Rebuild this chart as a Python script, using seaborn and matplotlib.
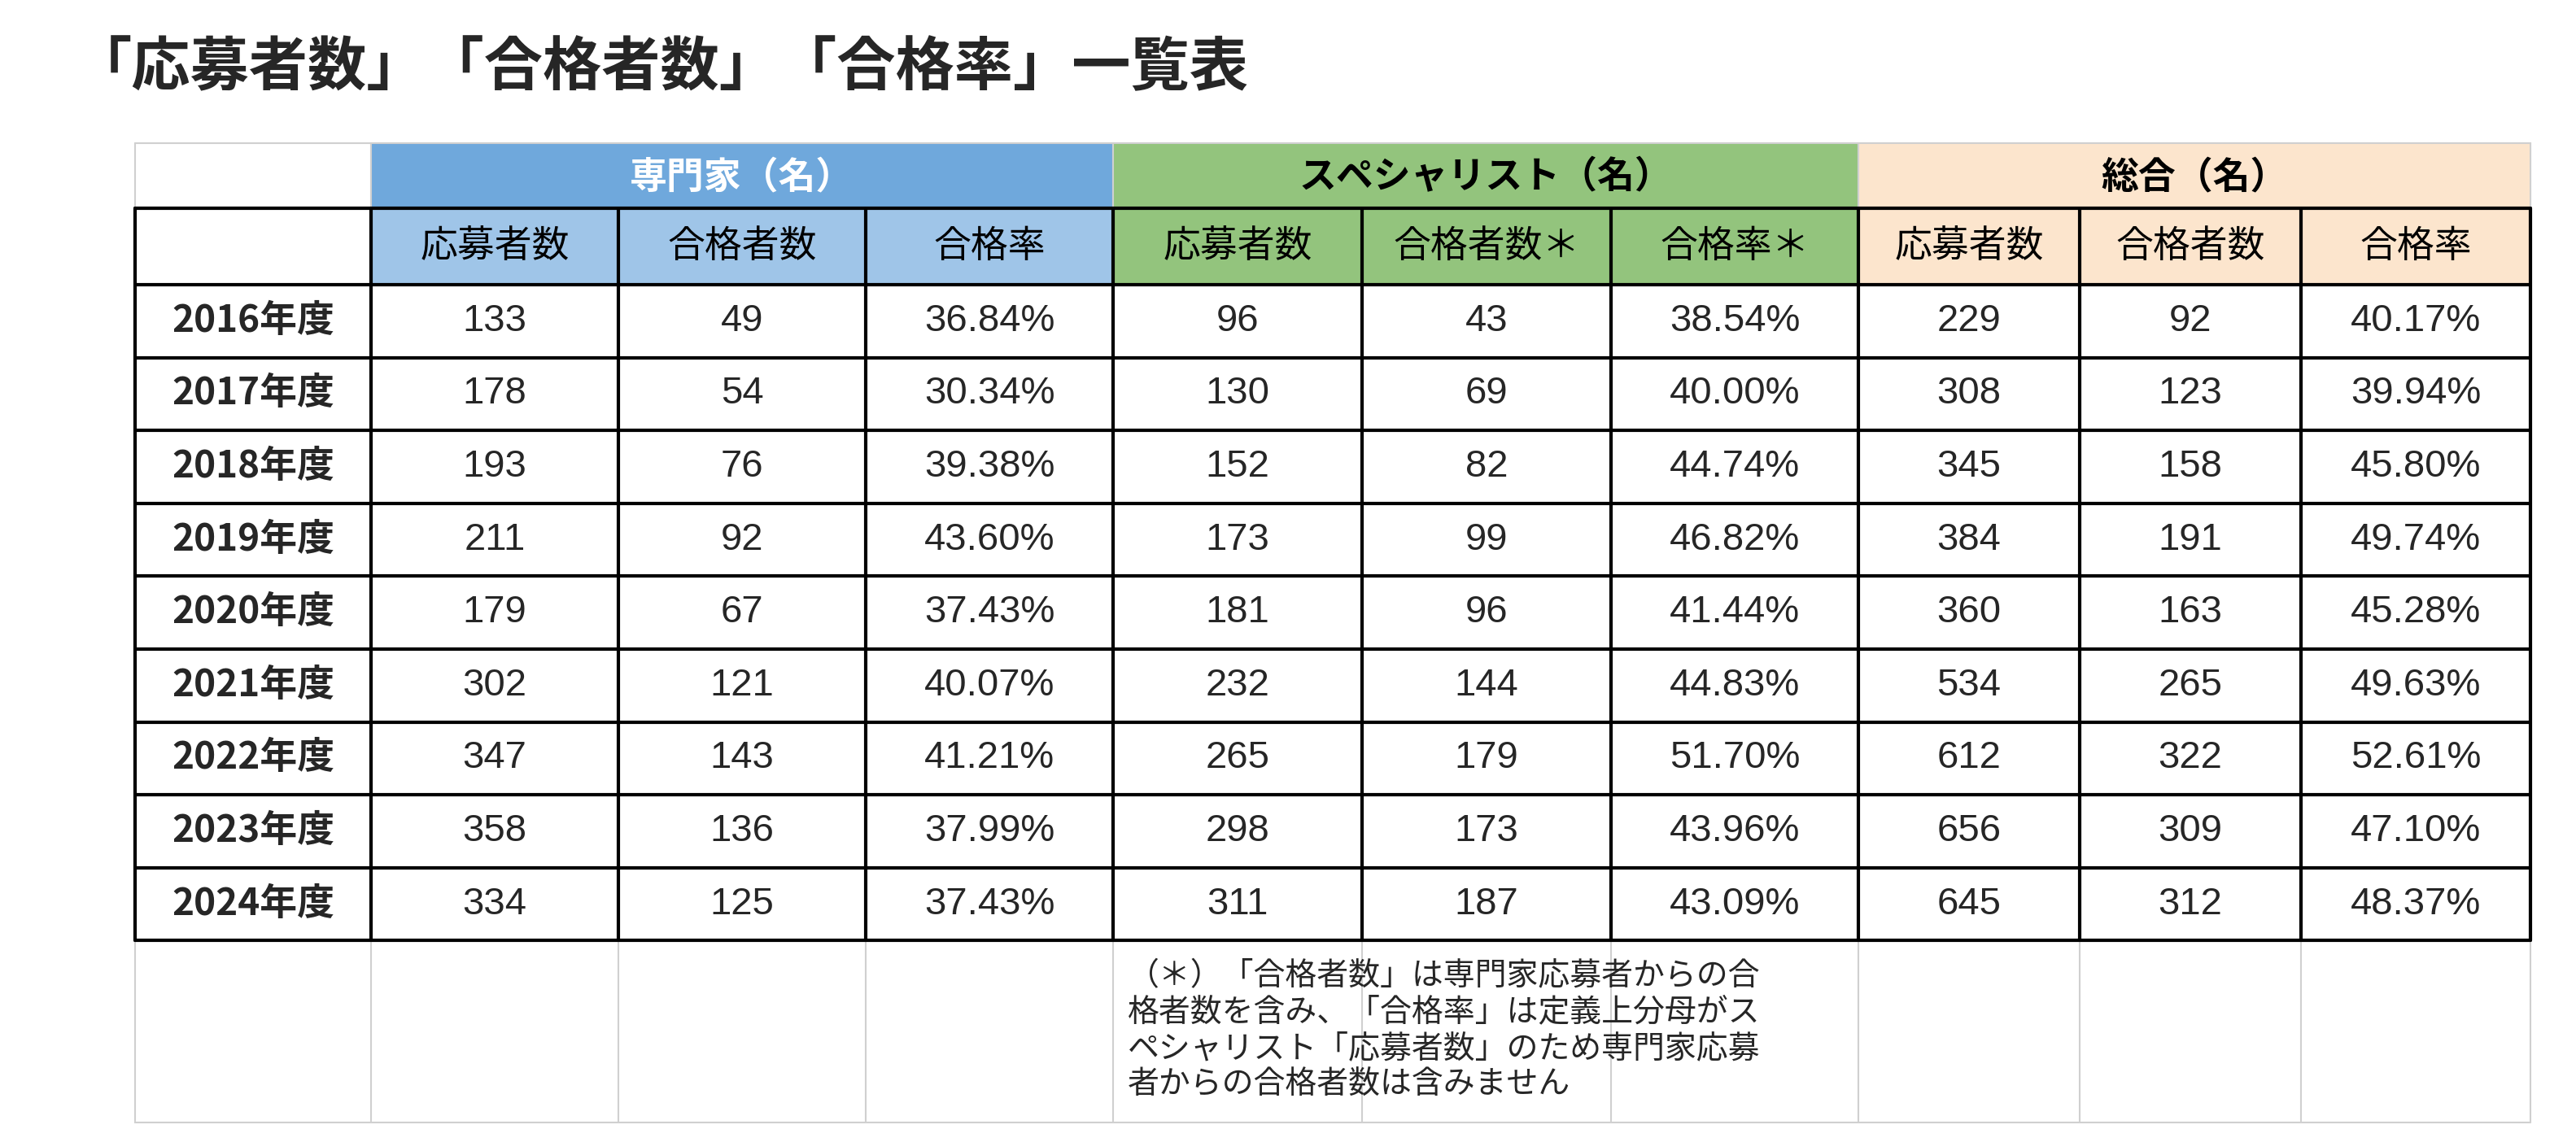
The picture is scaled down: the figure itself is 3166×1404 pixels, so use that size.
import matplotlib
matplotlib.use("Agg")
import matplotlib.pyplot as plt
import seaborn as sns
from matplotlib.patches import Rectangle

sns.set_theme(style="white")

years = ["2016年度","2017年度","2018年度","2019年度","2020年度","2021年度","2022年度","2023年度","2024年度"]
groups = ["専門家（名）","スペシャリスト（名）","総合（名）"]
subheads = ["応募者数","合格者数","合格率","応募者数","合格者数＊","合格率＊","応募者数","合格者数","合格率"]
exp_app = [133,178,193,211,179,302,347,358,334]
exp_pass = [49,54,76,92,67,121,143,136,125]
exp_rate = ["36.84%","30.34%","39.38%","43.60%","37.43%","40.07%","41.21%","37.99%","37.43%"]
sp_app = [96,130,152,173,181,232,265,298,311]
sp_pass = [43,69,82,99,96,144,179,173,187]
sp_rate = ["38.54%","40.00%","44.74%","46.82%","41.44%","44.83%","51.70%","43.96%","43.09%"]
tot_app = [229,308,345,384,360,534,612,656,645]
tot_pass = [92,123,158,191,163,265,322,309,312]
tot_rate = ["40.17%","39.94%","45.80%","49.74%","45.28%","49.63%","52.61%","47.10%","48.37%"]
title = "「応募者数」「合格者数」「合格率」一覧表"
note = "（＊）「合格者数」は専門家応募者からの合\n格者数を含み、「合格率」は定義上分母がス\nペシャリスト「応募者数」のため専門家応募\n者からの合格者数は含みません"

JP = "Noto Sans CJK JP"
NUM = "Liberation Sans"
fig = plt.figure(figsize=(31.66, 14.04), dpi=100)
ax = fig.add_axes([0, 0, 1, 1])
ax.set_xlim(0, 1583); ax.set_ylim(702, 0); ax.axis("off")

xs = [83, 228, 380, 532, 684, 837, 990, 1142, 1278, 1414, 1555]
ys = [88, 128, 175] + [175 + 44.8 * (i + 1) for i in range(9)]
yend = 690
grid = "#d0d0d0"
# light grid first
for x in xs:
    ax.plot([x, x], [ys[0], yend], color=grid, lw=1.5, zorder=1)
for y in ys + [yend]:
    ax.plot([xs[0], xs[-1]], [y, y], color=grid, lw=1.5, zorder=1)

gcol = ["#6fa8dc", "#93c47d", "#fce5cd"]
scol = ["#9fc5e8"] * 3 + ["#93c47d"] * 3 + ["#fce5cd"] * 3
for g in range(3):
    x0, x1 = xs[1 + 3 * g], xs[4 + 3 * g]
    ax.add_patch(Rectangle((x0, ys[0]), x1 - x0, ys[1] - ys[0], fc=gcol[g], ec=grid, lw=1.5, zorder=2))
    ax.text((x0 + x1) / 2, (ys[0] + ys[1]) / 2 + 1, groups[g], ha="center", va="center",
            fontsize=33, fontweight="bold", family=JP, color="white" if g == 0 else "black", zorder=4)
for j in range(9):
    x0, x1 = xs[1 + j], xs[2 + j]
    ax.add_patch(Rectangle((x0, ys[1]), x1 - x0, ys[2] - ys[1], fc=scol[j], ec=grid, lw=1.5, zorder=2))
    ax.text((x0 + x1) / 2, (ys[1] + ys[2]) / 2, subheads[j], ha="center", va="center",
            fontsize=33, family=JP, color="black", zorder=4)
# black borders
for y in ys[1:]:
    ax.plot([xs[0], xs[-1]], [y, y], color="black", lw=3, zorder=3)
for x in xs:
    ax.plot([x, x], [ys[1], ys[-1]], color="black", lw=3, zorder=3)

cols = [exp_app, exp_pass, exp_rate, sp_app, sp_pass, sp_rate, tot_app, tot_pass, tot_rate]
for i, yr in enumerate(years):
    yc = (ys[2 + i] + ys[3 + i]) / 2
    ax.text((xs[0] + xs[1]) / 2, yc, yr, ha="center", va="center", fontsize=33,
            fontweight="bold", family=JP, zorder=4)
    for j, c in enumerate(cols):
        ax.text((xs[1 + j] + xs[2 + j]) / 2, yc, str(c[i]), ha="center", va="center",
                fontsize=34, family=NUM, zorder=4)
ax.text(693, 590, note, ha="left", va="top", fontsize=28, family=JP, linespacing=1.15, zorder=4)
ax.text(45, 42, title, ha="left", va="center", fontsize=52, fontweight="bold", family=JP)
fig.savefig("out.png", dpi=100, facecolor="white")
